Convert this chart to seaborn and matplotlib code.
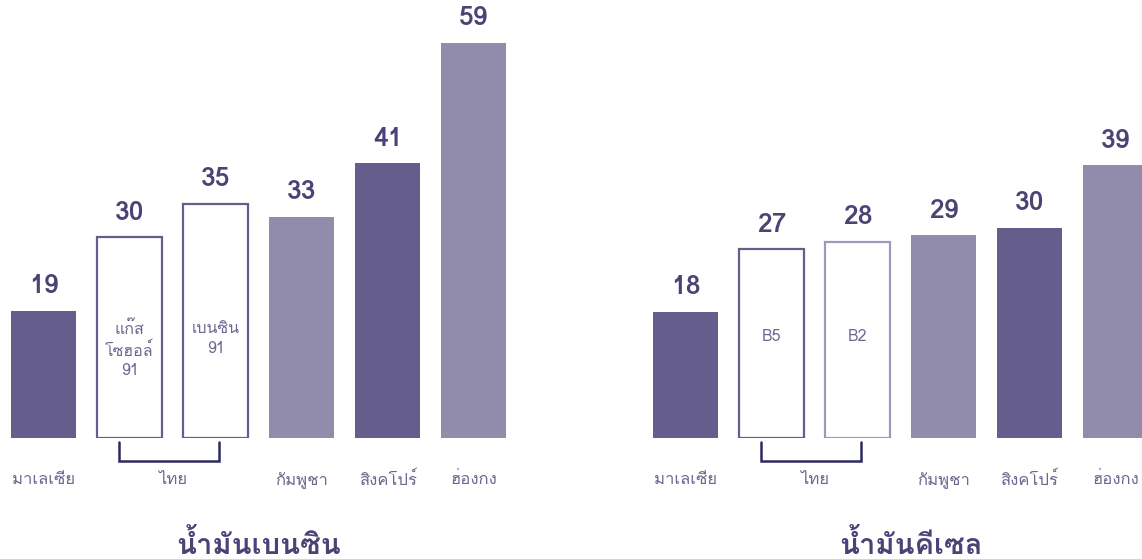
import matplotlib
matplotlib.use("Agg")
import matplotlib.pyplot as plt
from matplotlib import font_manager
from matplotlib.ft2font import FT2Font
import seaborn as sns
import pandas as pd

# ---------------- data ----------------
countries = ["มาเลเซีย", "ไทย", "กัมพูชา", "สิงคโปร์", "ฮ่องกง"]
petrol_bars = ["มาเลเซีย", "แก๊สโซฮอล์ 91", "เบนซิน 91", "กัมพูชา", "สิงคโปร์", "ฮ่องกง"]
petrol_values = [19, 30, 35, 33, 41, 59]
petrol_inner = ["", "แก๊ส\nโซฮอล์\n91", "เบนซิน\n91", "", "", ""]
diesel_bars = ["มาเลเซีย", "B5", "B2", "กัมพูชา", "สิงคโปร์", "ฮ่องกง"]
diesel_values = [18, 27, 28, 29, 30, 39]
diesel_inner = ["", "B5", "B2", "", "", ""]
titles = ["น้ำมันเบนซิน", "น้ำมันคีเซล"]

# ---------------- fonts ----------------
def find_thai_fonts():
    regular, bold = None, None
    for f in font_manager.fontManager.ttflist:
        try:
            cmap = FT2Font(f.fname).get_charmap()
        except Exception:
            continue
        if 0x0E01 in cmap and 0x0E19 in cmap:
            w = f.weight if isinstance(f.weight, int) else (700 if "bold" in str(f.weight).lower() else 400)
            if w >= 600:
                if bold is None:
                    bold = f.name
            else:
                if regular is None:
                    regular = f.name
    return regular, bold

reg_font, bold_font = find_thai_fonts()
reg_family = [reg_font or bold_font or "DejaVu Sans", "DejaVu Sans"]
bold_family = [bold_font or reg_font or "DejaVu Sans", "DejaVu Sans"]

sns.set_theme(style="white")
plt.rcParams["font.family"] = reg_family

DARK = "#655D8C"
LIGHT = "#918BAC"
VAL_C = "#4B4275"
TICK_C = "#6E6890"
BRACKET_C = "#2D2960"
EDGE_LIGHT = "#9E98BA"

W, H = 1142, 559
fig = plt.figure(figsize=(W / 100, H / 100), dpi=100)

def make_axes(left_px, right_px, xlo, xhi, ymax, px_per_unit):
    base_px = 438
    top_px = base_px - ymax * px_per_unit
    ax = fig.add_axes([left_px / W, (H - base_px) / H,
                       (right_px - left_px) / W, (base_px - top_px) / H])
    ax.set_xlim(xlo, xhi)
    ax.set_ylim(0, ymax)
    return ax

panels = [
    dict(bars=petrol_bars, vals=petrol_values, inner=petrol_inner,
         styles=["dark", "outline", "outline", "light", "dark", "light"],
         left=0, right=520, xlo=-0.506, xhi=5.54, ymax=64, ppu=6.7,
         inner_y=17.4, title_x=259),
    dict(bars=diesel_bars, vals=diesel_values, inner=diesel_inner,
         styles=["dark", "outline", "outline_light", "light", "dark", "light"],
         left=630, right=1142, xlo=-0.645, xhi=5.308, ymax=62, ppu=7.0,
         inner_y=15.6, title_x=911),
]

for i, p in enumerate(panels):
    ax = make_axes(p["left"], p["right"], p["xlo"], p["xhi"], p["ymax"], p["ppu"])
    df = pd.DataFrame({"bar": p["bars"], "value": p["vals"]})
    sns.barplot(data=df, x="bar", y="value", hue="bar", order=p["bars"],
                hue_order=p["bars"], palette=[DARK] * 6, legend=False,
                width=0.756, ax=ax, saturation=1)
    ax.set_xlim(p["xlo"], p["xhi"])
    ax.set_ylim(0, p["ymax"])
    patches = sorted(ax.patches, key=lambda r: r.get_x())
    for rect, st in zip(patches, p["styles"]):
        if st == "dark":
            rect.set_facecolor(DARK); rect.set_edgecolor("none")
        elif st == "light":
            rect.set_facecolor(LIGHT); rect.set_edgecolor("none")
        elif st == "outline":
            rect.set_facecolor("white"); rect.set_edgecolor(DARK); rect.set_linewidth(1.6)
        else:
            rect.set_facecolor("white"); rect.set_edgecolor(EDGE_LIGHT); rect.set_linewidth(1.6)
    for container in ax.containers:
        ax.bar_label(container, fmt="%d", padding=9, fontsize=19, fontweight="bold",
                     color=VAL_C, family=bold_family)
    # inner labels
    for j, txt in enumerate(p["inner"]):
        if txt:
            ax.text(j, p["inner_y"], txt, ha="center", va="top", fontsize=11.5,
                    color=TICK_C, linespacing=1.3, family=reg_family)
    # ticks
    ax.set_xticks([0, 1.5, 3, 4, 5])
    ax.set_xticklabels(countries, fontsize=12, color=TICK_C, family=reg_family)
    ax.tick_params(axis="x", length=0, pad=24.5)
    ax.set_yticks([])
    ax.set_xlabel(""); ax.set_ylabel("")
    for s in ax.spines.values():
        s.set_visible(False)
    # bracket under Thai bars
    ppu = p["ppu"]
    yb0, yb1 = -4 / ppu, -23 / ppu
    x0, x1 = 0.88, 2.04
    ax.plot([x0, x0, x1, x1], [yb0, yb1, yb1, yb0], color=BRACKET_C, lw=1.8,
            clip_on=False, solid_joinstyle="miter")
    # title
    fig.text(p["title_x"] / W, 1 - 545 / H, titles[i], ha="center", va="center",
             fontsize=21, fontweight="bold", color=VAL_C, family=bold_family)

fig.savefig("out.png", dpi=100, facecolor="white")
